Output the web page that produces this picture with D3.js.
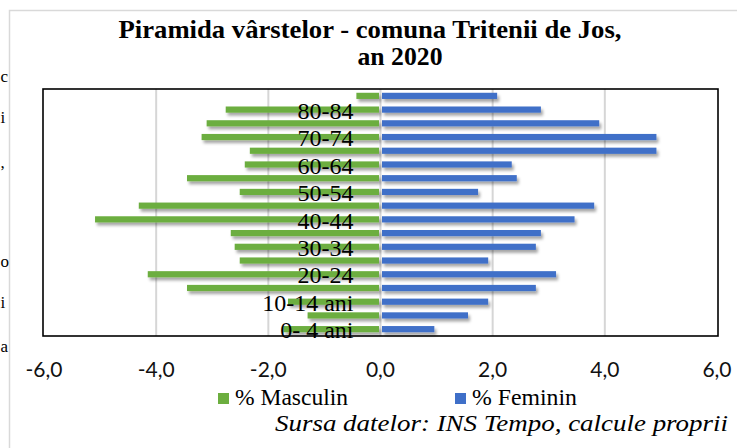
<!DOCTYPE html>
<html>
<head>
<meta charset="utf-8">
<script src="https://cdn.jsdelivr.net/npm/d3@7"></script>
<style>
  body { margin: 0; background: #fff; }
  svg { display: block; }
</style>
</head>
<body>
<svg width="737" height="448"></svg>
<script>
// age groups, bottom to top
const ageGroups = ["0-4", "5-9", "10-14", "15-19", "20-24", "25-29", "30-34", "35-39", "40-44",
  "45-49", "50-54", "55-59", "60-64", "65-69", "70-74", "75-79", "80-84", "85+"];
const ageLabels = {"0-4": "0- 4 ani", "10-14": "10-14 ani", "20-24": "20-24", "30-34": "30-34",
  "40-44": "40-44", "50-54": "50-54", "60-64": "60-64", "70-74": "70-74", "80-84": "80-84"};
const masculin = [1.73, 1.30, 1.65, 3.45, 4.15, 2.51, 2.60, 2.67, 5.09,
  4.31, 2.51, 3.45, 2.42, 2.33, 3.19, 3.10, 2.76, 0.43];
const feminin = [0.96, 1.56, 1.92, 2.77, 3.13, 1.92, 2.77, 2.86, 3.46,
  3.81, 1.74, 2.43, 2.34, 4.92, 4.92, 3.90, 2.86, 2.08];
const xTicks = [-6, -4, -2, 0, 2, 4, 6];

const green = "#6cae3f", blue = "#3f6fc8";
const serif = "Liberation Serif";
const box = {left: 43, right: 718, top: 89, bottom: 336};

const svg = d3.select("svg");

const defs = svg.append("defs");
defs.append("filter").attr("id", "shadow")
    .attr("x", "-5%").attr("y", "-50%").attr("width", "115%").attr("height", "250%")
  .append("feDropShadow")
    .attr("dx", 2).attr("dy", 3).attr("stdDeviation", 1.6)
    .attr("flood-color", "#000").attr("flood-opacity", 0.35);

// outer chart frame (partly outside the picture)
svg.append("rect")
    .attr("x", 9.5).attr("y", 10.5).attr("width", 800).attr("height", 500)
    .attr("fill", "none").attr("stroke", "#d9d9d9").attr("stroke-width", 1.5);

// fragments of the surrounding document text on the left edge
const sideText = [["c", 82], ["i", 123], [",", 168], ["o", 267], ["i", 308], ["a", 352]];
svg.selectAll(".side").data(sideText).join("text")
    .attr("x", 0.5).attr("y", d => d[1])
    .attr("font-family", serif).attr("font-size", 17)
    .text(d => d[0]);

// title
svg.append("text")
    .attr("x", 370).attr("y", 38)
    .attr("text-anchor", "middle")
    .attr("textLength", 503).attr("lengthAdjust", "spacingAndGlyphs")
    .attr("font-family", serif).attr("font-size", 25).attr("font-weight", "bold")
    .text("Piramida vârstelor - comuna Tritenii de Jos,");
svg.append("text")
    .attr("x", 400).attr("y", 65)
    .attr("text-anchor", "middle")
    .attr("textLength", 85).attr("lengthAdjust", "spacingAndGlyphs")
    .attr("font-family", serif).attr("font-size", 25).attr("font-weight", "bold")
    .text("an 2020");

const x = d3.scaleLinear().domain([-6, 6]).range([box.left + 1, box.right - 1]);
const y = d3.scaleBand().domain(ageGroups).range([box.bottom, box.top]).paddingInner(0.55).paddingOuter(0.275);

// gridlines
svg.append("g").selectAll("line")
    .data(xTicks.filter(t => t > -6 && t < 6))
    .join("line")
    .attr("x1", d => x(d)).attr("x2", d => x(d))
    .attr("y1", box.top).attr("y2", box.bottom)
    .attr("stroke", "#d6d6d6").attr("stroke-width", 2);

const rows = ageGroups.map((a, i) => ({age: a, m: masculin[i], f: feminin[i]}));

svg.append("g").attr("filter", "url(#shadow)")
  .selectAll("rect")
  .data(rows)
  .join("rect")
    .attr("x", d => x(-d.m))
    .attr("y", d => y(d.age))
    .attr("width", d => x(0) - 1.5 - x(-d.m))
    .attr("height", y.bandwidth())
    .attr("fill", green);

svg.append("g").attr("filter", "url(#shadow)")
  .selectAll("rect")
  .data(rows)
  .join("rect")
    .attr("x", x(0) + 1.5)
    .attr("y", d => y(d.age))
    .attr("width", d => x(d.f) - x(0) - 1.5)
    .attr("height", y.bandwidth())
    .attr("fill", blue);

// category labels next to the zero axis
const yAxis = d3.axisLeft(y)
    .tickValues(ageGroups.filter(a => ageLabels[a]))
    .tickFormat(a => ageLabels[a])
    .tickSize(0).tickPadding(0);
svg.append("g")
    .attr("transform", `translate(${x(0) - 27},1.5)`)
    .call(yAxis)
    .attr("font-family", serif).attr("font-size", 24)
    .call(g => g.select(".domain").remove())
    .call(g => g.selectAll("text").attr("fill", "#000"));

// plot frame
svg.append("rect")
    .attr("x", box.left).attr("y", box.top)
    .attr("width", box.right - box.left).attr("height", box.bottom - box.top)
    .attr("fill", "none").attr("stroke", "#000").attr("stroke-width", 1.6);

// x tick labels
svg.append("g").selectAll("text")
    .data(xTicks)
    .join("text")
    .attr("x", d => x(d)).attr("y", 377)
    .attr("text-anchor", "middle")
    .attr("font-family", "Lato").attr("font-size", 21).attr("fill", "#111")
    .text(d => d3.format(".1f")(d).replace("−", "-").replace(".", ","));

// legend
const legend = [["% Masculin", green, 218, 113], ["% Feminin", blue, 455, 105]];
const lg = svg.append("g").selectAll("g").data(legend).join("g");
lg.append("rect")
    .attr("x", d => d[2]).attr("y", 393).attr("width", 11).attr("height", 11)
    .attr("fill", d => d[1]);
lg.append("text")
    .attr("x", d => d[2] + 17).attr("y", 405)
    .attr("textLength", d => d[3]).attr("lengthAdjust", "spacingAndGlyphs")
    .attr("font-family", serif).attr("font-size", 23)
    .text(d => d[0]);

// source
svg.append("text")
    .attr("x", 275).attr("y", 431)
    .attr("textLength", 453).attr("lengthAdjust", "spacingAndGlyphs")
    .attr("font-family", serif).attr("font-size", 24).attr("font-style", "italic")
    .text("Sursa datelor: INS Tempo, calcule proprii");
</script>
</body>
</html>
